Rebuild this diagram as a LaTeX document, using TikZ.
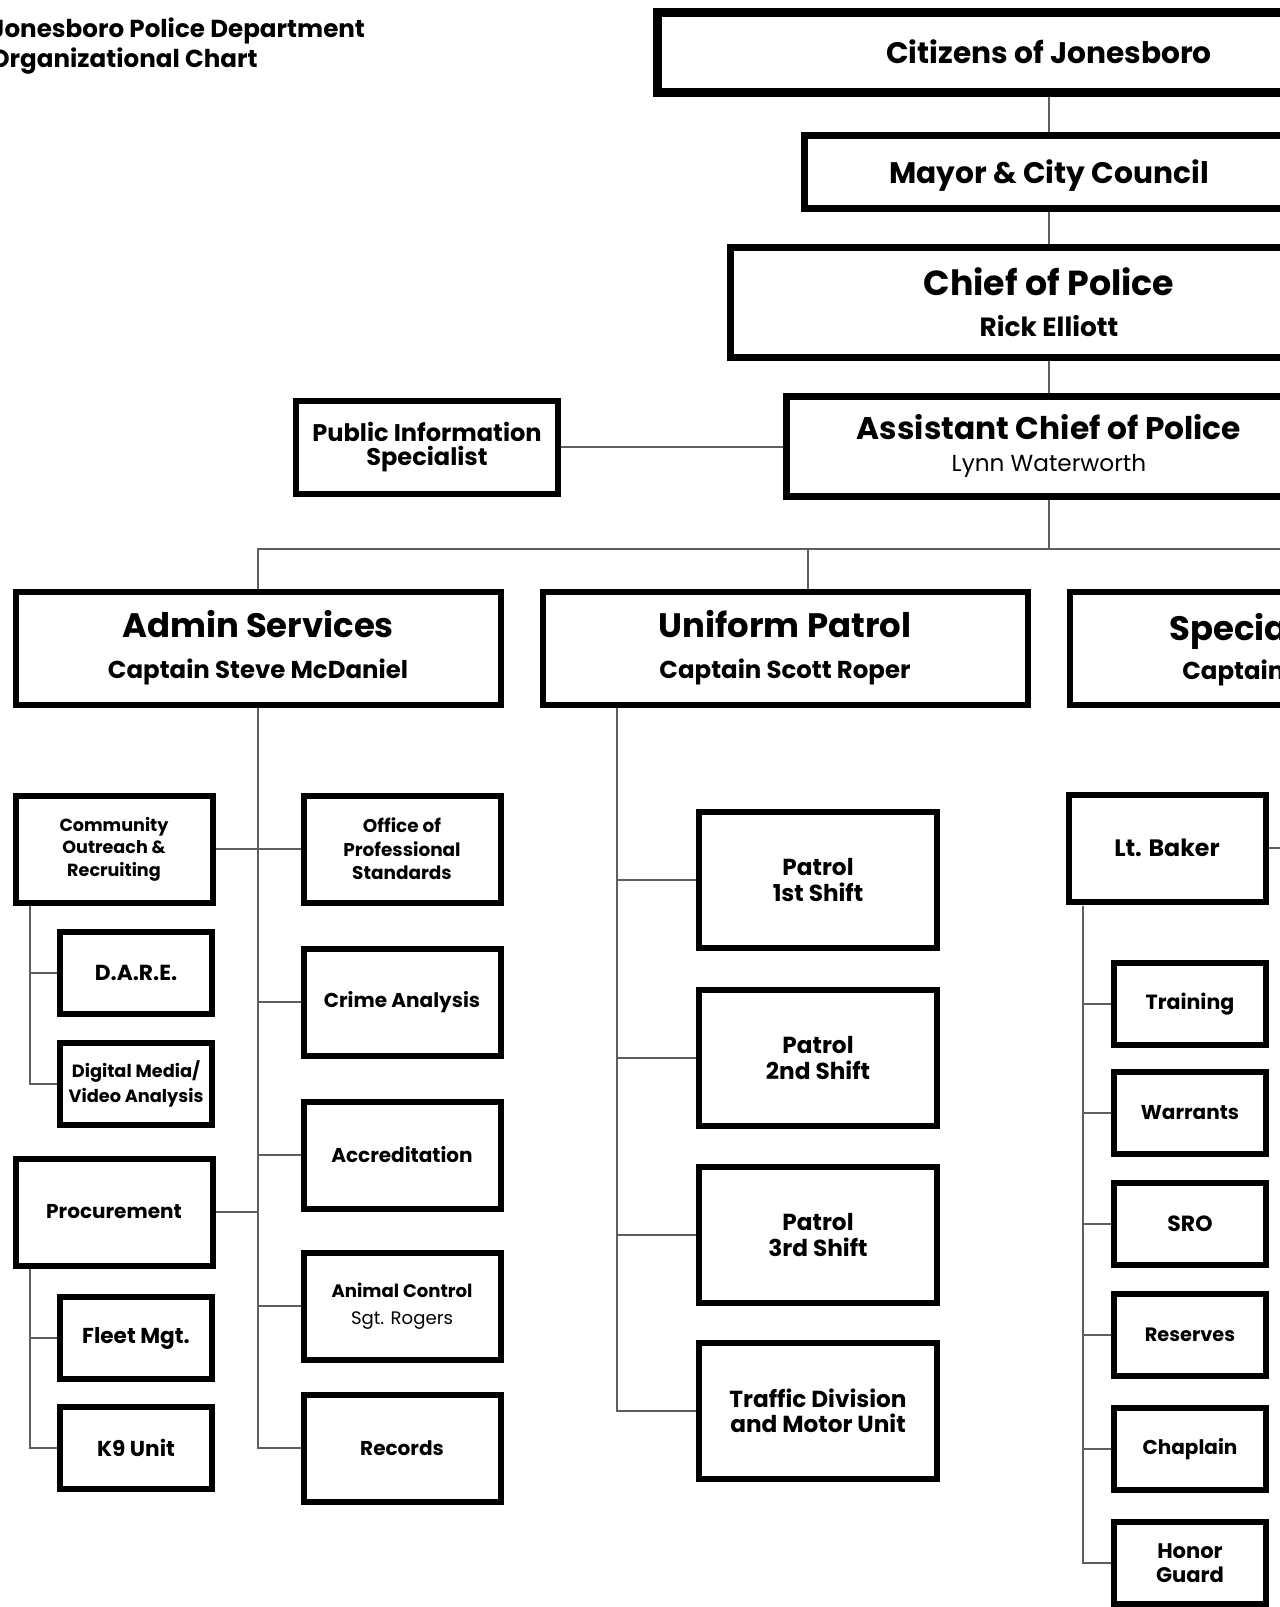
\documentclass[tikz,border=0pt]{standalone}
\usepackage{fontspec}
\setmainfont{Poppins}
\usetikzlibrary{backgrounds}
\newlength{\pix}\setlength{\pix}{0.02cm}
\definecolor{linkgray}{RGB}{100,92,92}

\begin{document}
\begin{tikzpicture}[x=0.02cm, y=-0.02cm,
  orgbox/.style={draw=black, line width=6\pix, fill=white, inner sep=0pt, align=center,
    font=\bfseries\fontsize{11.4}{14}\selectfont},
  smallbox/.style={orgbox, minimum width=152\pix, minimum height=82\pix},
  midbox/.style={orgbox, minimum width=197\pix, minimum height=107\pix},
  patrolbox/.style={orgbox, minimum width=238\pix, minimum height=136\pix,
    font=\bfseries\fontsize{13.2}{14.5}\selectfont},
  divbox/.style={orgbox, minimum width=485\pix, minimum height=113\pix,
    font=\bfseries\fontsize{13.9}{23.5}\selectfont},
  topbox/.style={orgbox, line width=7\pix, font=\bfseries\fontsize{16.9}{19}\selectfont},
  link/.style={draw=linkgray, line width=1.8\pix}]
  \useasboundingbox (0,0) rectangle (1280,1607);

  % titlu
  \node[anchor=north west, align=left, inner sep=0pt,
    font=\bfseries\fontsize{14}{17.5}\selectfont] (title) at (-10,17)
    {Jonesboro Police Department\\Organizational Chart};

  % conducere
  \node[topbox, line width=9\pix, minimum width=783\pix, minimum height=80\pix] (cit) at (1049,52) {Citizens of Jonesboro};
  \node[topbox, minimum width=489\pix, minimum height=73\pix, text height=17pt] (mayor) at (1049,172) {Mayor \& City Council};
  \node[topbox, minimum width=637\pix, minimum height=110\pix, font=\bfseries\fontsize{15}{23}\selectfont] (chief) at (1049,302)
    {{\fontsize{19.8}{23}\selectfont Chief of Police}\\Rick Elliott};
  \node[topbox, minimum width=525\pix, minimum height=100\pix, font=\fontsize{13.2}{18.6}\selectfont] (asst) at (1049,446)
    {{\bfseries\fontsize{17.8}{18.6}\selectfont Assistant Chief of Police}\\Lynn Waterworth};
  \node[orgbox, minimum width=262\pix, minimum height=93\pix, font=\bfseries\fontsize{13.7}{13.4}\selectfont] (pis) at (427,447)
    {Public Information\\Specialist};

  % divizii
  \node[divbox] (admin) at (258,648) {{\fontsize{19.3}{23.5}\selectfont Admin Services}\\Captain Steve McDaniel};
  \node[divbox] (uniform) at (785,648) {{\fontsize{19.3}{23.5}\selectfont Uniform Patrol}\\Captain Scott Roper};
  \node[divbox] (special) at (1312,648) {};
  \node[anchor=base west, inner sep=0pt, font=\bfseries\fontsize{19.3}{22}\selectfont] (spectitle) at (1169,640) {Special};
  \node[anchor=base west, inner sep=0pt, font=\bfseries\fontsize{13.9}{16}\selectfont] (speccpt) at (1182,679) {Captain};

  % servicii administrative
  \node[midbox, font=\bfseries\fontsize{10}{12.8}\selectfont] (outreach) at (114,849) {Community\\Outreach \&\\Recruiting};
  \node[smallbox, font=\bfseries\fontsize{12.4}{14}\selectfont] (dare) at (136,973) {D.A.R.E.};
  \node[smallbox, font=\bfseries\fontsize{10.1}{14.5}\selectfont] (media) at (136,1084) {Digital Media/\\Video Analysis};
  \node[midbox] (procure) at (114,1212) {Procurement};
  \node[smallbox, font=\bfseries\fontsize{12.3}{14}\selectfont] (fleet) at (136,1338) {Fleet Mgt.};
  \node[smallbox, font=\bfseries\fontsize{12.3}{14}\selectfont] (k9) at (136,1448) {K9 Unit};
  \node[midbox, font=\bfseries\fontsize{10.5}{13.3}\selectfont] (ops) at (402,849) {Office of\\Professional\\Standards};
  \node[midbox] (crime) at (402,1002) {Crime Analysis};
  \node[midbox] (accred) at (402,1155) {Accreditation};
  \node[midbox, font=\bfseries\fontsize{10.3}{15}\selectfont] (animal) at (402,1306) {Animal Control\\{\mdseries Sgt. Rogers}};
  \node[midbox] (records) at (402,1448) {Records};

  % patrulare
  \node[patrolbox] (shift1) at (818,880) {Patrol\\1st Shift};
  \node[patrolbox] (shift2) at (818,1058) {Patrol\\2nd Shift};
  \node[patrolbox] (shift3) at (818,1235) {Patrol\\3rd Shift};
  \node[patrolbox] (traffic) at (818,1411) {Traffic Division\\and Motor Unit};

  % operatiuni speciale
  \node[midbox, font=\bfseries\fontsize{13.5}{15}\selectfont] (baker) at (1167,848) {Lt. Baker};
  \node[smallbox, font=\bfseries\fontsize{11.7}{14}\selectfont] (training) at (1190,1004) {Training};
  \node[smallbox] (warrants) at (1190,1113) {Warrants};
  \node[smallbox, font=\bfseries\fontsize{12.5}{14}\selectfont] (sro) at (1190,1224) {SRO};
  \node[smallbox, font=\bfseries\fontsize{11}{14}\selectfont] (reserves) at (1190,1335) {Reserves};
  \node[smallbox] (chaplain) at (1190,1449) {Chaplain};
  \node[smallbox, font=\bfseries\fontsize{12}{14}\selectfont] (honor) at (1190,1563) {Honor\\Guard};

  % legaturi
  \begin{scope}[on background layer]
    \coordinate (bus) at (258,549);
    \coordinate (busend) at (1290,549);
    \coordinate (udrop) at (808,549);
    \coordinate (cbus) at (30,906);
    \coordinate (pbus) at (30,1269);
    \coordinate (ubus) at (617,707);
    \coordinate (sbus) at (1083,906);

    \draw[link] (cit.south) -- (mayor.north) (mayor.south) -- (chief.north) (chief.south) -- (asst.north);
    \draw[link] (asst.south) -- (asst.south |- bus);
    \draw[link] (admin.north) -- (bus) -- (busend);
    \draw[link] (udrop) -- (udrop |- uniform.north);
    \draw[link] (pis.east) -- (pis.east -| asst.west);

    \draw[link] (admin.south) -- (admin.south |- records.west) -- (records.west);
    \draw[link] (crime.west) -- (crime.west -| admin.south)
      (accred.west) -- (accred.west -| admin.south)
      (animal.west) -- (animal.west -| admin.south);
    \draw[link] (outreach.east) -- (ops.west);
    \draw[link] (procure.east) -- (procure.east -| admin.south);
    \draw[link] (cbus) -- (cbus |- media.west) -- (media.west) (cbus |- dare.west) -- (dare.west);
    \draw[link] (pbus) -- (pbus |- k9.west) -- (k9.west) (pbus |- fleet.west) -- (fleet.west);

    \draw[link] (ubus) -- (ubus |- traffic.west) -- (traffic.west)
      (ubus |- shift1.west) -- (shift1.west)
      (ubus |- shift2.west) -- (shift2.west)
      (ubus |- shift3.west) -- (shift3.west);

    \draw[link] (baker.east) -- (baker.east -| busend);
    \draw[link] (sbus) -- (sbus |- honor.west) -- (honor.west)
      (sbus |- training.west) -- (training.west)
      (sbus |- warrants.west) -- (warrants.west)
      (sbus |- sro.west) -- (sro.west)
      (sbus |- reserves.west) -- (reserves.west)
      (sbus |- chaplain.west) -- (chaplain.west);
  \end{scope}
\end{tikzpicture}
\end{document}
